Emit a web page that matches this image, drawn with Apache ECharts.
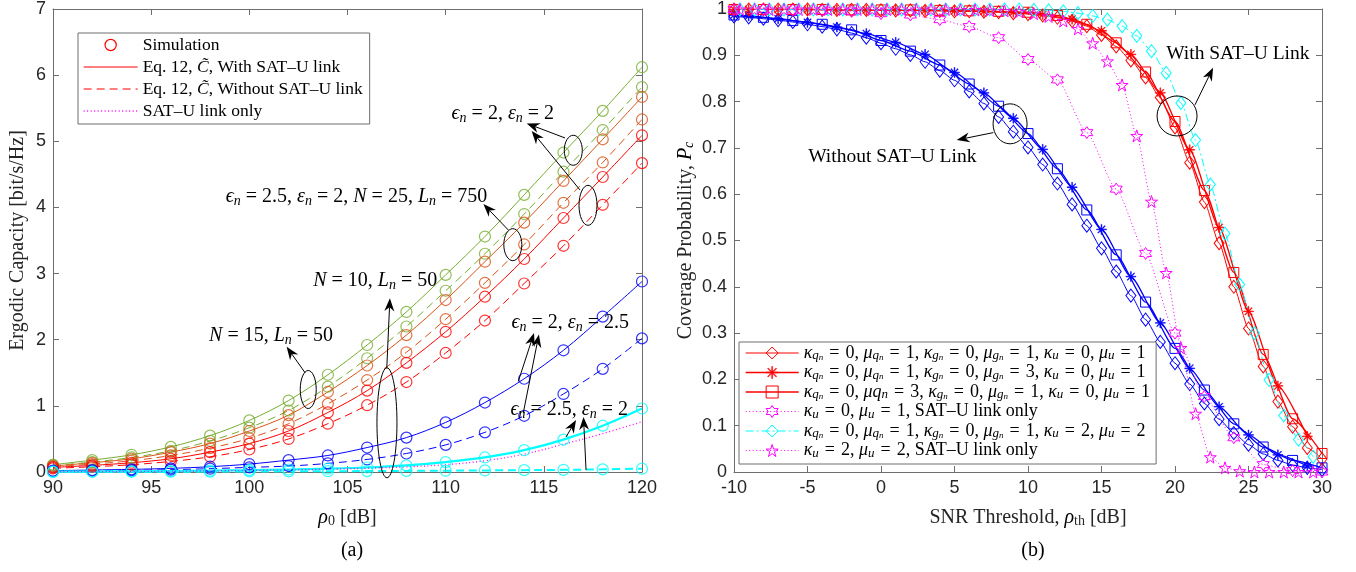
<!DOCTYPE html>
<html>
<head>
<meta charset="utf-8">
<title>Ergodic capacity and coverage probability</title>
<script src="https://cdn.jsdelivr.net/npm/echarts@6.0.0/dist/echarts.min.js"></script>
<style>
  html, body { margin: 0; padding: 0; background: #fff; }
  #chart { width: 1356px; height: 572px; }
</style>
</head>
<body>
<div id="chart"></div>
<script>
// (a) ergodic capacity [bit/s/Hz] against rho_0 [dB]
const rho0 = [90, 92, 94, 96, 98, 100, 102, 104, 106, 108, 110, 112, 114, 116, 118, 120];
const capGreen    = [0.11, 0.18, 0.26, 0.38, 0.55, 0.78, 1.08, 1.47, 1.92, 2.42, 2.98, 3.56, 4.19, 4.83, 5.46, 6.12];
const capGreenNo  = [0.10, 0.15, 0.22, 0.32, 0.47, 0.67, 0.93, 1.29, 1.72, 2.20, 2.74, 3.30, 3.90, 4.54, 5.17, 5.82];
const capOrange   = [0.09, 0.14, 0.20, 0.30, 0.43, 0.62, 0.86, 1.21, 1.61, 2.07, 2.60, 3.18, 3.77, 4.40, 5.03, 5.67];
const capOrangeNo = [0.08, 0.12, 0.17, 0.25, 0.36, 0.51, 0.73, 1.03, 1.39, 1.81, 2.31, 2.86, 3.44, 4.07, 4.68, 5.33];
const capRed      = [0.07, 0.10, 0.14, 0.20, 0.30, 0.43, 0.62, 0.90, 1.23, 1.65, 2.12, 2.65, 3.22, 3.84, 4.46, 5.09];
const capRedNo    = [0.055, 0.08, 0.11, 0.16, 0.23, 0.34, 0.50, 0.73, 1.01, 1.36, 1.80, 2.29, 2.85, 3.42, 4.04, 4.67];
const capBlue     = [0.02, 0.03, 0.04, 0.055, 0.08, 0.12, 0.18, 0.25, 0.37, 0.52, 0.75, 1.05, 1.41, 1.84, 2.35, 2.88];
const capBlueNo   = [0.015, 0.02, 0.025, 0.035, 0.05, 0.07, 0.09, 0.13, 0.19, 0.28, 0.41, 0.60, 0.85, 1.18, 1.56, 2.02];
const capCyan     = [0.005, 0.007, 0.010, 0.014, 0.020, 0.028, 0.038, 0.050, 0.068, 0.10, 0.15, 0.22, 0.33, 0.49, 0.70, 0.96];
const capCyanNo   = [0.002, 0.003, 0.004, 0.005, 0.006, 0.008, 0.010, 0.012, 0.014, 0.017, 0.020, 0.024, 0.028, 0.033, 0.040, 0.050];
const capSatOnly  = [0.004, 0.006, 0.008, 0.012, 0.017, 0.023, 0.031, 0.042, 0.057, 0.078, 0.11, 0.17, 0.27, 0.42, 0.58, 0.76];

// (b) coverage probability against SNR threshold [dB]
const snrAll = [-10, -9, -8, -7, -6, -5, -4, -3, -2, -1, 0, 1, 2, 3, 4, 5, 6, 7, 8, 9, 10,
  11, 12, 13, 14, 15, 16, 17, 18, 19, 20, 21, 22, 23, 24, 25, 26, 27, 28, 29, 30];
const snrOdd = [-10, -9, -7, -5, -3, -1, 1, 3, 5, 7, 9, 11, 13, 15, 17, 19, 21, 23, 25, 27, 29];
const snrEven = [-10, -8, -6, -4, -2, 0, 2, 4, 6, 8, 10, 12, 14, 16, 18, 20, 22, 24, 26, 28, 30];
const snrShift = [-9.6, -8.6, -7.6, -6.6, -5.6, -4.6, -3.6, -2.6, -1.6, -0.6, 0.4, 1.4, 2.4, 3.4, 4.4,
  5.4, 6.4, 7.4, 8.4, 9.4, 10.4, 11.4, 12.4, 13.4, 14.4, 15.4, 16.4, 17.4, 18.4, 19.4, 20.4,
  21.4, 22.4, 23.4, 24.4, 25.4, 26.4, 27.4, 28.4, 29.4];

const pcBlueDia = [0.984, 0.982, 0.979, 0.976, 0.972, 0.967, 0.962, 0.956, 0.948, 0.938, 0.926,
  0.914, 0.901, 0.886, 0.867, 0.846, 0.822, 0.796, 0.767, 0.735, 0.701, 0.664, 0.623, 0.578,
  0.532, 0.483, 0.433, 0.381, 0.329, 0.281, 0.235, 0.190, 0.148, 0.114, 0.084, 0.059, 0.039,
  0.025, 0.015, 0.009, 0.005];
const pcBlueAst = [0.987, 0.985, 0.979, 0.971, 0.961, 0.947, 0.928, 0.902, 0.863, 0.819, 0.764,
  0.697, 0.615, 0.524, 0.422, 0.322, 0.224, 0.141, 0.080, 0.037, 0.013];
const pcBlueSq = [0.987, 0.982, 0.975, 0.967, 0.955, 0.932, 0.909, 0.879, 0.838, 0.790, 0.731,
  0.655, 0.566, 0.469, 0.367, 0.267, 0.177, 0.104, 0.054, 0.025, 0.009];
const pcRedDia = [0.999, 0.999, 0.999, 0.999, 0.999, 0.999, 0.998, 0.998, 0.998, 0.998, 0.997,
  0.997, 0.997, 0.996, 0.996, 0.995, 0.995, 0.994, 0.993, 0.991, 0.989, 0.986, 0.981, 0.974,
  0.963, 0.944, 0.919, 0.889, 0.852, 0.809, 0.744, 0.668, 0.583, 0.494, 0.400, 0.310, 0.228,
  0.152, 0.098, 0.052, 0.028];
const pcRedAst = [0.999, 0.999, 0.999, 0.999, 0.998, 0.998, 0.998, 0.997, 0.996, 0.995, 0.993,
  0.988, 0.978, 0.953, 0.902, 0.819, 0.696, 0.528, 0.347, 0.186, 0.077];
const pcRedSq = [0.999, 0.999, 0.999, 0.999, 0.998, 0.998, 0.998, 0.997, 0.996, 0.995, 0.993,
  0.986, 0.967, 0.927, 0.864, 0.757, 0.608, 0.431, 0.254, 0.115, 0.040];
const pcCyanDia = [0.999, 0.999, 0.999, 0.999, 0.999, 0.999, 0.999, 0.999, 0.999, 0.999, 0.999,
  0.999, 0.999, 0.999, 0.999, 0.999, 0.999, 0.999, 0.999, 0.999, 0.998, 0.997, 0.995, 0.991,
  0.985, 0.977, 0.963, 0.942, 0.909, 0.862, 0.797, 0.717, 0.621, 0.515, 0.405, 0.300, 0.199,
  0.122, 0.070, 0.033];
const pcHexa = [0.999, 0.999, 0.998, 0.997, 0.995, 0.990, 0.987, 0.977, 0.962, 0.938, 0.891,
  0.847, 0.733, 0.611, 0.472, 0.300, 0.163, 0.074, 0.016, 0.003, 0.000];
const pcPenta = [0.999, 0.999, 0.999, 0.999, 0.999, 0.999, 0.999, 0.999, 0.999, 0.999, 0.999,
  0.999, 0.999, 0.999, 0.999, 0.998, 0.998, 0.997, 0.996, 0.994, 0.990, 0.984, 0.974, 0.957,
  0.926, 0.887, 0.836, 0.726, 0.584, 0.430, 0.268, 0.126, 0.032, 0.009, 0.002, 0, 0, 0, 0, 0];

// annotations (data coordinates of each plot)
const notesA = [
  { at: [110.3, 5.42], text: '{i|ϵ}{s|n} = 2, {i|ε}{s|n} = 2' },
  { at: [98.8, 4.16], text: '{i|ϵ}{s|n} = 2.5, {i|ε}{s|n} = 2, {i|N} = 25, {i|L}{s|n} = 750' },
  { at: [103.25, 2.89], text: '{i|N} = 10, {i|L}{s|n} = 50' },
  { at: [97.95, 2.06], text: '{i|N} = 15, {i|L}{s|n} = 50' },
  { at: [113.35, 2.25], text: '{i|ϵ}{s|n} = 2, {i|ε}{s|n} = 2.5' },
  { at: [113.3, 0.94], text: '{i|ϵ}{s|n} = 2.5, {i|ε}{s|n} = 2' }
];
const notesB = [
  { at: [-4.95, 0.681], text: 'Without SAT–U Link' },
  { at: [19.4, 0.904], text: 'With SAT–U Link' }
];
const ringsA = [
  { at: [116.5, 4.864], rx: 9, ry: 15 }, { at: [117.25, 4.032], rx: 9, ry: 20 },
  { at: [113.42, 3.437], rx: 9, ry: 16 }, { at: [103.0, 1.247], rx: 8, ry: 19 },
  { at: [107.01, 0.744], rx: 10, ry: 55 }
];
const ringsB = [
  { at: [8.78, 0.752], rx: 17, ry: 20 }, { at: [20.14, 0.769], rx: 20, ry: 20 }
];
const arrowsA = [
  [[116.08, 5.05], [114.13, 5.27]], [[116.84, 4.264], [114.38, 5.156]],
  [[113.19, 3.659], [111.92, 4.052]], [[102.84, 1.501], [101.9, 1.894]],
  [[107.0, 1.568], [107.16, 2.626]], [[113.7, 1.37], [114.5, 2.1]],
  [[113.95, 0.888], [114.75, 2.08]], [[116.13, 0.529], [116.64, 0.786]],
  [[117.15, 0.03], [117.02, 0.832]]
];
const arrowsB = [
  [[7.64, 0.733], [5.15, 0.717]], [[21.36, 0.793], [22.59, 0.873]]
];

const SERIF = '"Liberation Serif", "Times New Roman", serif';
const SANS = '"Liberation Sans", Arial, sans-serif';
const INK = '#262626';
const FRAME = '#6e6e6e';
const GREEN = '#77AC30', ORANGE = '#D95319', RED = '#FF0000', BLUE = '#0000FF', CYAN = '#00FFFF', MAGENTA = '#FF00FF';
const NOFILL = 'rgba(0,0,0,0)';
const EQ = '\u2004=\u2004';

function pairs(xs, ys) { return xs.map((x, i) => [x, ys[i]]); }

// marker outlines
function polyPath(pts) {
  return 'path://M' + pts.map(p => p[0].toFixed(3) + ',' + p[1].toFixed(3)).join(' L') + ' Z';
}
function starPts(n, rIn) {
  const pts = [];
  for (let k = 0; k < 2 * n; k++) {
    const a = -Math.PI / 2 + k * Math.PI / n;
    const r = k % 2 === 0 ? 1 : rIn;
    pts.push([r * Math.cos(a), r * Math.sin(a)]);
  }
  return pts;
}
function asteriskPath() {
  let d = 'path://';
  [0, 45, 90, 135].forEach(deg => {
    const a = deg * Math.PI / 180, c = Math.cos(a), s = Math.sin(a), w = 0.08;
    const p = [[c - w * s, s + w * c], [c + w * s, s - w * c], [-c + w * s, -s - w * c], [-c - w * s, -s + w * c]];
    d += 'M' + p.map(q => q[0].toFixed(3) + ',' + q[1].toFixed(3)).join(' L') + ' Z ';
  });
  return d;
}
const SYM_HEXA = polyPath(starPts(6, 0.577));
const SYM_PENTA = polyPath(starPts(5, 0.382));
const SYM_AST = asteriskPath();

const DASH = [8, 5];
const DOT = [1, 2.5];
const DASHDOT = [8, 3, 2, 3];

function capLine(name, ys, color, type, width) {
  return {
    name, type: 'line', xAxisIndex: 0, yAxisIndex: 0, data: pairs(rho0, ys),
    smooth: 0.35, symbol: 'none', showSymbol: false,
    lineStyle: { color, width, type }, itemStyle: { color }, z: 2
  };
}
function capSim(name, ys, color) {
  return {
    name, type: 'scatter', xAxisIndex: 0, yAxisIndex: 0, data: pairs(rho0, ys),
    symbol: 'circle', symbolSize: 11,
    itemStyle: { color: NOFILL, borderColor: color, borderWidth: 1.2 }, z: 3
  };
}
function covLine(name, xs, ys, color, type, width, symbol, size, filled) {
  return {
    name, type: 'line', xAxisIndex: 2, yAxisIndex: 2, data: pairs(xs, ys),
    smooth: 0.2, smoothMonotone: 'x', symbol, symbolSize: size, showSymbol: true, showAllSymbol: true,
    lineStyle: { color, width, type },
    itemStyle: filled ? { color, borderColor: color, borderWidth: 0.5 }
                      : { color: NOFILL, borderColor: color, borderWidth: 1 },
    z: 3
  };
}

const series = [
  capLine('g1', capGreen, GREEN, 'solid', 1),
  capLine('g2', capGreenNo, GREEN, DASH, 1),
  capLine('o1', capOrange, ORANGE, 'solid', 1),
  capLine('o2', capOrangeNo, ORANGE, DASH, 1),
  capLine('With', capRed, RED, 'solid', 1),
  capLine('Without', capRedNo, RED, DASH, 1),
  capLine('b1', capBlue, BLUE, 'solid', 1),
  capLine('b2', capBlueNo, BLUE, DASH, 1),
  capLine('c1', capCyan, CYAN, 'solid', 2.2),
  capLine('c2', capCyanNo, CYAN, DASH, 2),
  capLine('Only', capSatOnly, MAGENTA, DOT, 1.3),
  capSim('sg1', capGreen, GREEN),
  capSim('sg2', capGreenNo, GREEN),
  capSim('so1', capOrange, ORANGE),
  capSim('so2', capOrangeNo, ORANGE),
  capSim('sr1', capRed, RED),
  capSim('sr2', capRedNo, RED),
  capSim('sb1', capBlue, BLUE),
  capSim('sb2', capBlueNo, BLUE),
  capSim('sc1', capCyan, CYAN),
  capSim('sc2', capCyanNo, CYAN),
  // legend swatch for the simulation circles
  { name: 'Simulation', type: 'line', xAxisIndex: 0, yAxisIndex: 0, data: [], symbol: 'circle',
    lineStyle: { color: RED, width: 0, opacity: 0 },
    itemStyle: { color: NOFILL, borderColor: RED, borderWidth: 1.2 } },

  covLine('bd', snrAll, pcBlueDia, BLUE, 'solid', 1, 'diamond', [10, 13], false),
  covLine('ba', snrOdd, pcBlueAst, BLUE, 'solid', 1.3, SYM_AST, 10, true),
  covLine('bs', snrEven, pcBlueSq, BLUE, 'solid', 1.3, 'rect', 10, false),
  covLine('k1', snrAll, pcRedDia, RED, 'solid', 1, 'diamond', [10, 13], false),
  covLine('k2', snrOdd, pcRedAst, RED, 'solid', 1.3, SYM_AST, 10, true),
  covLine('k3', snrEven, pcRedSq, RED, 'solid', 1.3, 'rect', 10, false),
  covLine('k4', snrEven, pcHexa, MAGENTA, DOT, 1, SYM_HEXA, 12, false),
  covLine('k5', snrShift, pcCyanDia, CYAN, DASHDOT, 1, 'diamond', [10, 13], false),
  covLine('k6', snrShift, pcPenta, MAGENTA, DOT, 1, SYM_PENTA, 12, false)
];

const legendA = {
  Simulation: 'Simulation',
  With: 'Eq. 12, {i|C̃}, With SAT–U link',
  Without: 'Eq. 12, {i|C̃}, Without SAT–U link',
  Only: 'SAT–U link only'
};
const kq = '{i|κ}{s|q}{ss|n}', mq = '{i|μ}{s|q}{ss|n}', kg = '{i|κ}{s|g}{ss|n}', mg = '{i|μ}{s|g}{ss|n}';
const ku = '{i|κ}{s|u}', mu = '{i|μ}{s|u}';
const legendB = {
  k1: `${kq}${EQ}0, ${mq}${EQ}1, ${kg}${EQ}0, ${mg}${EQ}1, ${ku}${EQ}0, ${mu}${EQ}1`,
  k2: `${kq}${EQ}0, ${mq}${EQ}1, ${kg}${EQ}0, ${mg}${EQ}3, ${ku}${EQ}0, ${mu}${EQ}1`,
  k3: `${kq}${EQ}0, {i|μq}{s|n}${EQ}3, ${kg}${EQ}0, ${mg}${EQ}1, ${ku}${EQ}0, ${mu}${EQ}1`,
  k4: `${ku}${EQ}0, ${mu}${EQ}1, SAT–U link only`,
  k5: `${kq}${EQ}0, ${mq}${EQ}1, ${kg}${EQ}0, ${mg}${EQ}1, ${ku}${EQ}2, ${mu}${EQ}2`,
  k6: `${ku}${EQ}2, ${mu}${EQ}2, SAT–U link only`
};

function mathRich(size) {
  return {
    i: { fontFamily: SERIF, fontStyle: 'italic', fontSize: size, color: '#000' },
    s: { fontFamily: SERIF, fontStyle: 'italic', fontSize: Math.round(size * 0.7), padding: [6, 0, 0, 0], color: '#000' },
    ss: { fontFamily: SERIF, fontStyle: 'italic', fontSize: Math.round(size * 0.52), padding: [9, 0, 0, 0], color: '#000' },
    r: { fontFamily: SERIF, fontSize: Math.round(size * 0.7), padding: [6, 0, 0, 0], color: INK }
  };
}

function valueAxis(grid, pos, min, max, interval, labels, name, nameGap) {
  return {
    type: 'value', gridIndex: grid, position: pos, min, max, interval,
    name: name || '', nameLocation: 'middle', nameGap: nameGap || 0,
    nameTextStyle: { fontFamily: SERIF, fontSize: 20, color: INK, rich: mathRich(20) },
    axisLine: { show: true, onZero: false, lineStyle: { color: FRAME, width: 1 } },
    axisTick: { show: true, inside: true, length: 6, lineStyle: { color: FRAME } },
    axisLabel: { show: labels, fontFamily: SANS, fontSize: 18, color: INK, margin: 7 },
    splitLine: { show: false }
  };
}

const chart = echarts.init(document.getElementById('chart'));
chart.setOption({
  animation: false,
  backgroundColor: '#fff',
  title: [
    { text: '(a)', left: 347, top: 536, textAlign: 'center', textStyle: { fontFamily: SERIF, fontSize: 20, fontWeight: 'normal', color: '#000' } },
    { text: '(b)', left: 1028, top: 536, textAlign: 'center', textStyle: { fontFamily: SERIF, fontSize: 20, fontWeight: 'normal', color: '#000' } }
  ],
  grid: [
    { left: 53, top: 9, width: 589, height: 463 },
    { left: 734, top: 9, width: 588, height: 463 }
  ],
  xAxis: [
    valueAxis(0, 'bottom', 90, 120, 5, true, '{i|ρ}{r|0} [dB]', 36),
    valueAxis(0, 'top', 90, 120, 5, false),
    valueAxis(1, 'bottom', -10, 30, 5, true, 'SNR Threshold, {i|ρ}{r|th} [dB]', 36),
    valueAxis(1, 'top', -10, 30, 5, false)
  ],
  yAxis: [
    valueAxis(0, 'left', 0, 7, 1, true, 'Ergodic Capacity [bit/s/Hz]', 25),
    valueAxis(0, 'right', 0, 7, 1, false),
    valueAxis(1, 'left', 0, 1, 0.1, true, 'Coverage Probability, {i|P}{s|c}', 38),
    valueAxis(1, 'right', 0, 1, 0.1, false)
  ],
  legend: [
    {
      data: [
        'Simulation',
        { name: 'With', itemStyle: { opacity: 0 } },
        { name: 'Without', itemStyle: { opacity: 0 } },
        { name: 'Only', itemStyle: { opacity: 0 } }
      ],
      formatter: n => legendA[n],
      orient: 'vertical', left: 78, top: 33, padding: [3, 7, 4, 5],
      itemGap: 4, itemWidth: 54, itemHeight: 14,
      backgroundColor: '#fff', borderColor: FRAME, borderWidth: 1,
      selectedMode: false,
      itemStyle: { borderWidth: 'inherit' },
      lineStyle: { width: 'inherit' },
      textStyle: { fontFamily: SERIF, fontSize: 17.5, color: '#000', rich: mathRich(17.5) }
    },
    {
      data: ['k1', 'k2', 'k3', 'k4', 'k5', 'k6'],
      formatter: n => legendB[n],
      orient: 'vertical', left: 739, top: 342, padding: [2, 6, 4, 6],
      itemGap: 1, itemWidth: 53, itemHeight: 15,
      backgroundColor: '#fff', borderColor: FRAME, borderWidth: 1,
      selectedMode: false,
      itemStyle: { borderWidth: 'inherit' },
      lineStyle: { width: 'inherit' },
      textStyle: { fontFamily: SERIF, fontSize: 18, color: '#000', rich: mathRich(18) }
    }
  ],
  series
});

// annotations placed through the axes' own scales
const noteRich = {
  i: { font: 'italic 20px ' + SERIF, fill: '#000' },
  s: { font: 'italic 14px ' + SERIF, fill: '#000', padding: [9, 0, 0, 0] }
};
function toPx(grid, p) { return chart.convertToPixel({ gridIndex: grid }, p); }
function arrowParts(grid, a) {
  const from = toPx(grid, a[0]), tip = toPx(grid, a[1]);
  const dx = tip[0] - from[0], dy = tip[1] - from[1], len = Math.hypot(dx, dy);
  const ux = dx / len, uy = dy / len, nx = -uy, ny = ux;
  const L = 13, W = 5, B = 9;
  const back = [tip[0] - ux * B, tip[1] - uy * B];
  return [
    { type: 'line', silent: true, z: 50, shape: { x1: from[0], y1: from[1], x2: back[0], y2: back[1] },
      style: { stroke: '#000', lineWidth: 1 } },
    { type: 'polygon', silent: true, z: 50,
      shape: { points: [tip, [tip[0] - ux * L + nx * W, tip[1] - uy * L + ny * W], back,
        [tip[0] - ux * L - nx * W, tip[1] - uy * L - ny * W]] },
      style: { fill: '#000' } }
  ];
}
function ringPart(grid, r) {
  const c = toPx(grid, r.at);
  return { type: 'ellipse', silent: true, z: 50, shape: { cx: c[0], cy: c[1], rx: r.rx, ry: r.ry },
    style: { fill: NOFILL, stroke: '#000', lineWidth: 1 } };
}
function notePart(grid, n, size) {
  const p = toPx(grid, n.at);
  return { type: 'text', silent: true, z: 50, x: p[0], y: p[1],
    style: { text: n.text, font: size + 'px ' + SERIF, fill: '#000', rich: noteRich,
      align: 'left', verticalAlign: 'middle', textAlign: 'left', textVerticalAlign: 'middle' } };
}

const graphic = [];
notesA.forEach(n => graphic.push(notePart(0, n, 20)));
notesB.forEach(n => graphic.push(notePart(1, n, 19.5)));
ringsA.forEach(r => graphic.push(ringPart(0, r)));
ringsB.forEach(r => graphic.push(ringPart(1, r)));
arrowsA.forEach(a => graphic.push(...arrowParts(0, a)));
arrowsB.forEach(a => graphic.push(...arrowParts(1, a)));
chart.setOption({ graphic });
</script>
</body>
</html>
